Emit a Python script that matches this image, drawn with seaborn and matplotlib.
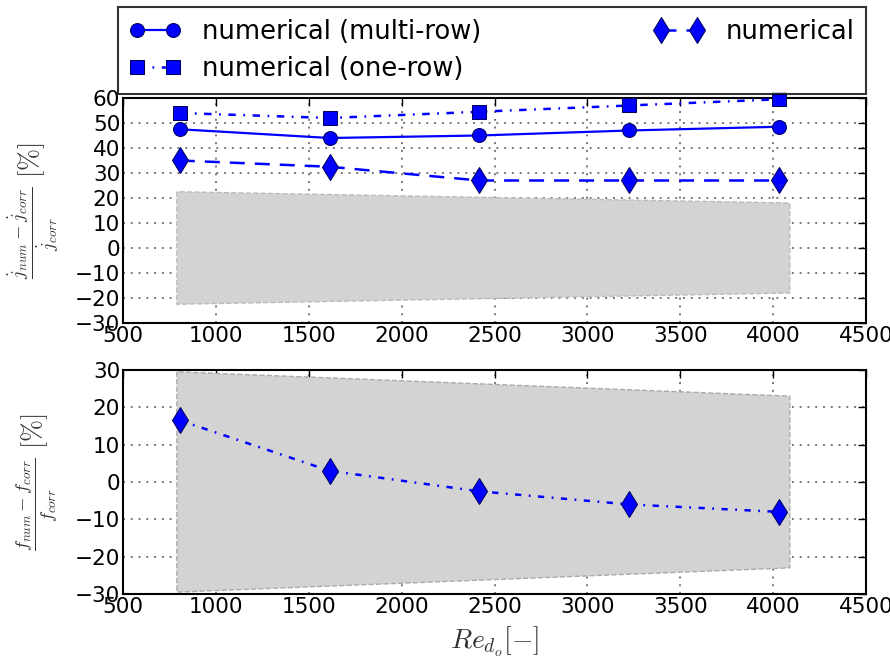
import numpy as np
import pandas as pd
import matplotlib
matplotlib.use("Agg")
import matplotlib.pyplot as plt
import seaborn as sns

re_vals = [806, 1612, 2418, 3224, 4030]
multi_row = [47.5, 44.0, 45.0, 47.0, 48.5]
one_row = [54.0, 52.0, 54.5, 57.0, 59.5]
numerical_j = [35.0, 32.5, 27.0, 27.0, 27.0]
numerical_f = [16.5, 3.0, -2.5, -6.0, -8.0]

band_x = [790, 4090]
band_j_upper = [22.5, 18.0]
band_j_lower = [-22.5, -18.0]
band_f_upper = [29.5, 23.0]
band_f_lower = [-29.5, -23.0]

sns.set_theme(style="white")
plt.rcParams['font.family'] = ['DejaVu Sans']
plt.rcParams['mathtext.fontset'] = 'cm'
plt.rcParams['text.color'] = 'black'

fig = plt.figure(figsize=(8.9, 6.68), dpi=100)
ax1 = fig.add_axes([123/890, 1-323/668, 743/890, 225/668])
ax2 = fig.add_axes([123/890, 1-594/668, 743/890, 224/668])

blue = '#0000ff'
edge = '#000060'
ls_one = (0, (3, 3, 0.7, 3))
ls_num = (0, (6, 4))
ls_f = (0, (2.5, 3, 0.7, 3))

def style_ax(ax, ylim, yticks):
    ax.set_xlim(500, 4500)
    ax.set_ylim(*ylim)
    ax.set_xticks(np.arange(500, 4501, 500))
    ax.set_yticks(yticks)
    ax.grid(True, color='#777777', linestyle=(0, (1, 3)), linewidth=1.4)
    for s in ax.spines.values():
        s.set_color('black')
        s.set_linewidth(1.5)
    ax.tick_params(labelsize=15.5, length=6, width=1, colors='black',
                   top=True, right=True, direction='in', pad=2)
    ax.set_xlabel('')

# Top axes
ax1.fill_between(band_x, band_j_lower, band_j_upper, color='#d3d3d3',
                 edgecolor='#bbbbbb', linestyle='--', linewidth=1, zorder=1)
df_m = pd.DataFrame({'x': re_vals, 'y': multi_row})
df_o = pd.DataFrame({'x': re_vals, 'y': one_row})
df_n = pd.DataFrame({'x': re_vals, 'y': numerical_j})
sns.lineplot(data=df_m, x='x', y='y', ax=ax1, color=blue, linestyle='-', marker='o',
             markersize=10, markeredgecolor=edge, linewidth=1.6,
             label='numerical (multi-row)', zorder=3)
sns.lineplot(data=df_o, x='x', y='y', ax=ax1, color=blue, linestyle=ls_one, marker='s',
             markersize=10, markeredgecolor=edge, linewidth=1.8,
             label='numerical (one-row)', zorder=3)
sns.lineplot(data=df_n, x='x', y='y', ax=ax1, color=blue, linestyle=ls_num, marker='d',
             markersize=13, markeredgecolor=edge, linewidth=1.8,
             label='numerical', zorder=3)
for l in ax1.lines:
    l.set_clip_on(False)
style_ax(ax1, (-30, 60), np.arange(-30, 61, 10))
ax1.set_ylabel(r'$\frac{\dot{j}_{num}-\dot{j}_{corr}}{\dot{j}_{corr}}\ [\%]$',
               fontsize=19, color='#333333')
handles, labels = ax1.get_legend_handles_labels()
ax1.get_legend().remove()
leg = fig.legend(handles, labels,
                 loc='lower left', bbox_to_anchor=(118/890, 1-94/668, 748/890, 85/668),
                 mode='expand', ncol=2, fontsize=18.5, numpoints=2, frameon=True,
                 fancybox=False, edgecolor='black', borderaxespad=0,
                 handlelength=2.0, handletextpad=0.8, columnspacing=3,
                 labelspacing=0.45, borderpad=0.45, labelcolor='black')
leg.get_frame().set_linewidth(1.5)

# Bottom axes
ax2.fill_between(band_x, band_f_lower, band_f_upper, color='#d3d3d3',
                 edgecolor='#aaaaaa', linestyle='--', linewidth=1, zorder=1)
df_f = pd.DataFrame({'x': re_vals, 'y': numerical_f})
sns.lineplot(data=df_f, x='x', y='y', ax=ax2, color=blue, linestyle=ls_f, marker='d',
             markersize=13, markeredgecolor=edge, linewidth=1.8, zorder=3, legend=False)
style_ax(ax2, (-30, 30), np.arange(-30, 31, 10))
ax2.set_ylabel(r'$\frac{f_{num}-f_{corr}}{f_{corr}}\ [\%]$', fontsize=19, color='#333333')
ax2.set_xlabel(r'$Re_{d_o}[-]$', fontsize=20, color='#333333', labelpad=6)

for ax in (ax1, ax2):
    ax.yaxis.set_label_coords(-0.083, 0.5)

fig.savefig('out.png', dpi=100)
